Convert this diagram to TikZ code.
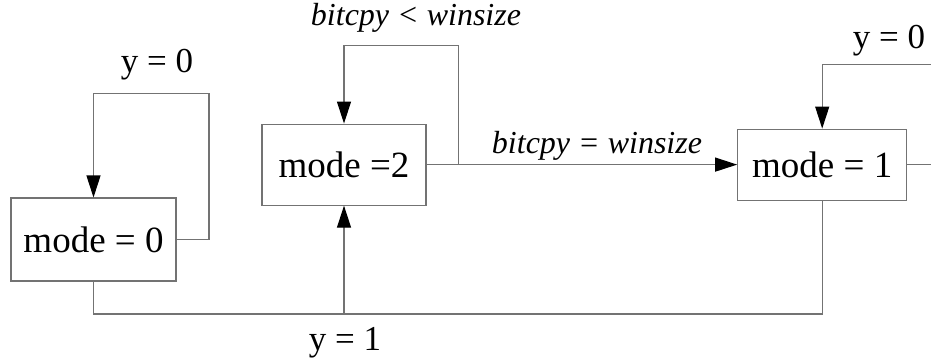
\documentclass[tikz,border=0pt]{standalone}
\usepackage{fontspec}
\setmainfont{Liberation Serif}
\usetikzlibrary{arrows.meta}
\begin{document}
\begin{tikzpicture}[x=1pt,y=-1pt,
  box/.style={draw=black!55, line width=1.1pt, fill=white, inner sep=0pt, font=\fontsize{37}{40}\selectfont},
  conn/.style={draw=black!55, line width=1.1pt},
  arr/.style={conn, -{Triangle[length=22pt,width=14pt,fill=black,color=black]}},
  lbl/.style={inner sep=0pt, font=\fontsize{35}{40}\selectfont},
  ilbl/.style={inner sep=0pt, font=\fontsize{32}{40}\selectfont\itshape}]
\useasboundingbox (0,0) rectangle (931,362);
\clip (0,0) rectangle (931,362);
\node[box, minimum width=165pt, minimum height=83pt] (m0) at (93.5,239.5) {mode = 0};
\node[box, minimum width=164pt, minimum height=81pt] (m2) at (344,164.6) {mode =2};
\node[box, minimum width=169pt, minimum height=71pt] (m1) at (822.2,164.6) {mode = 1};
\node[lbl] (y0a) at (157,65) {y = 0};
\node[lbl] (y0b) at (889,41) {y = 0};
\node[lbl] (y1) at (345,343) {y = 1};
\node[ilbl] (lt) at (416,18) {bitcpy < winsize};
\node[ilbl] (eq) at (597,146) {bitcpy = winsize};
\coordinate (r0) at (209,239.5);
\coordinate (t0) at (209,93.3);
\coordinate (r2) at (458.3,164.6);
\coordinate (t2) at (458.3,45.7);
\coordinate (r1) at (960,164.6);
\coordinate (t1) at (960,64.3);
\coordinate (b0) at (93.5,314);
\coordinate (b2) at (344,314);
\coordinate (b1) at (822.2,314);
\draw[arr] (m0.east) -- (r0) -- (t0) -| (m0.north);
\draw[arr] (m2.east) -- (r2) -- (t2) -| (m2.north);
\draw[arr] (r2) -- (m1.west);
\draw[arr] (m1.east) -- (r1) -- (t1) -| (m1.north);
\draw[conn] (m0.south) -- (b0) -- (b1) -- (m1.south);
\draw[arr] (b2) -- (m2.south);
\end{tikzpicture}
\end{document}
